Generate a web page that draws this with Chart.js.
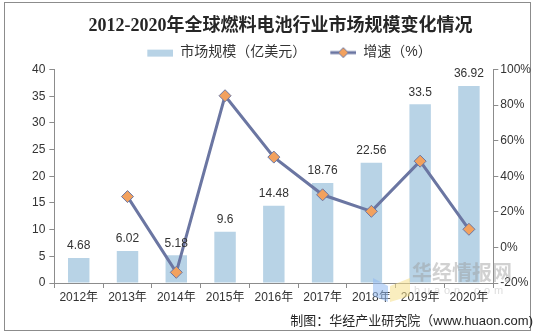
<!DOCTYPE html>
<html>
<head>
<meta charset="utf-8">
<script src="https://cdn.jsdelivr.net/npm/chart.js@4.4.1/dist/chart.umd.min.js"></script>
<style>
  html, body { margin: 0; padding: 0; background: #fff; }
  #wrap { position: relative; width: 535px; height: 335px; }
</style>
</head>
<body>
<div id="wrap"><canvas id="c" width="535" height="335"></canvas></div>
<script>
const categories = ['2012年','2013年','2014年','2015年','2016年','2017年','2018年','2019年','2020年'];
const marketSize = [4.68, 6.02, 5.18, 9.6, 14.48, 18.76, 22.56, 33.5, 36.92];
const growthRate = [null, 28.6, -14.0, 85.3, 50.8, 29.6, 20.3, 48.5, 10.2];
const leftTicks = [0, 5, 10, 15, 20, 25, 30, 35, 40];
const rightTicks = [-20, 0, 20, 40, 60, 80, 100];
const titleText = '2012-2020年全球燃料电池行业市场规模变化情况';
const barLabel = '市场规模（亿美元）';
const lineLabel = '增速（%）';
const sourceText = '制图：华经产业研究院（www.huaon.com)';

const BAR_COLOR = '#B8D3E6';
const LINE_COLOR = '#6B76A2';
const MARKER_COLOR = '#F2A15E';
const AXIS_COLOR = '#8C8C8C';
const TEXT_COLOR = '#333333';
const NUM_FONT = '"Liberation Sans", Arial, "Noto Sans CJK SC", sans-serif';
const CJK_FONT = '"Liberation Sans", "Noto Sans CJK SC", sans-serif';
const ICON_W = 44;

function makeBarIcon() {
  const c = document.createElement('canvas');
  c.width = ICON_W; c.height = 12;
  const x = c.getContext('2d');
  x.fillStyle = BAR_COLOR;
  x.fillRect(ICON_W - 26, 3, 26, 7);
  return c;
}
function makeLineIcon() {
  const c = document.createElement('canvas');
  c.width = ICON_W; c.height = 12;
  const x = c.getContext('2d');
  const s = ICON_W - 26;
  x.strokeStyle = LINE_COLOR; x.lineWidth = 3;
  x.beginPath(); x.moveTo(s, 6); x.lineTo(ICON_W, 6); x.stroke();
  x.fillStyle = MARKER_COLOR; x.strokeStyle = LINE_COLOR; x.lineWidth = 1;
  const cx = s + 13;
  x.beginPath(); x.moveTo(cx, 1); x.lineTo(cx + 5, 6); x.lineTo(cx, 11); x.lineTo(cx - 5, 6); x.closePath();
  x.fill(); x.stroke();
  return c;
}
const barIcon = makeBarIcon();
const lineIcon = makeLineIcon();

const decorPlugin = {
  id: 'decor',
  beforeDraw(chart) {
    const ctx = chart.ctx;
    ctx.save();
    ctx.fillStyle = '#fff';
    ctx.fillRect(0, 0, chart.width, chart.height);
    ctx.strokeStyle = AXIS_COLOR;
    ctx.lineWidth = 1;
    ctx.strokeRect(4.5, 2.5, 526, 328);
    ctx.restore();
  },
  afterDatasetsDraw(chart) {
    const ctx = chart.ctx;
    const meta = chart.getDatasetMeta(1);
    ctx.save();
    ctx.font = '12px ' + NUM_FONT;
    ctx.fillStyle = TEXT_COLOR;
    ctx.textAlign = 'center';
    ctx.textBaseline = 'bottom';
    meta.data.forEach((bar, i) => {
      ctx.fillText(String(marketSize[i]), bar.x, bar.y - 6);
    });
    ctx.restore();
  },
  afterDraw(chart) {
    const ctx = chart.ctx;
    ctx.save();
    ctx.globalAlpha = 0.55;
    ctx.fillStyle = '#8FB8F0';
    ctx.beginPath(); ctx.moveTo(373, 278); ctx.lineTo(388, 286); ctx.lineTo(388, 302); ctx.lineTo(373, 296); ctx.closePath(); ctx.fill();
    ctx.fillStyle = '#F5E08A';
    ctx.beginPath(); ctx.moveTo(390, 286); ctx.lineTo(410, 278); ctx.lineTo(410, 296); ctx.lineTo(390, 302); ctx.closePath(); ctx.fill();
    ctx.globalAlpha = 0.45;
    ctx.fillStyle = '#9A9A9A';
    ctx.font = 'bold 20px "Noto Sans CJK SC", sans-serif';
    ctx.textAlign = 'left';
    ctx.textBaseline = 'middle';
    ctx.fillText('华经情报网', 412, 272);
    ctx.globalAlpha = 0.35;
    ctx.font = '11px ' + NUM_FONT;
    const s = 'huaon.com';
    let x = 414;
    for (const ch of s) { ctx.fillText(ch, x, 291); x += 10; }
    ctx.restore();
  }
};

new Chart(document.getElementById('c'), {
  data: {
    labels: categories,
    datasets: [
      {
        type: 'line',
        label: lineLabel,
        data: growthRate,
        yAxisID: 'y1',
        borderColor: LINE_COLOR,
        borderWidth: 3,
        backgroundColor: MARKER_COLOR,
        pointStyle: 'rectRot',
        pointRadius: 6,
        pointBackgroundColor: MARKER_COLOR,
        pointBorderColor: LINE_COLOR,
        pointBorderWidth: 1,
        spanGaps: false,
        order: 0
      },
      {
        type: 'bar',
        label: barLabel,
        data: marketSize,
        yAxisID: 'y',
        backgroundColor: BAR_COLOR,
        barPercentage: 0.44,
        categoryPercentage: 1,
        order: 1
      }
    ]
  },
  options: {
    responsive: false,
    animation: false,
    devicePixelRatio: 1,
    layout: { padding: { left: 28, right: 2, top: 4, bottom: 6 } },
    plugins: {
      tooltip: { enabled: false },
      title: {
        display: true,
        text: titleText,
        color: '#262626',
        font: { family: '"Liberation Serif", "Noto Sans CJK SC", serif', size: 18, weight: 'bold' },
        padding: { top: 12, bottom: 2 }
      },
      legend: {
        display: true,
        labels: {
          color: TEXT_COLOR,
          font: { family: CJK_FONT, size: 14 },
          usePointStyle: true,
          pointStyleWidth: ICON_W,
          boxHeight: 12,
          padding: 6,
          generateLabels(chart) {
            return [
              { text: barLabel, pointStyle: barIcon, datasetIndex: 1, fontColor: TEXT_COLOR, lineWidth: 0, strokeStyle: 'transparent', fillStyle: BAR_COLOR },
              { text: lineLabel, pointStyle: lineIcon, datasetIndex: 0, fontColor: TEXT_COLOR, lineWidth: 0, strokeStyle: 'transparent', fillStyle: MARKER_COLOR }
            ];
          }
        }
      },
      subtitle: {
        display: true,
        position: 'bottom',
        align: 'end',
        text: sourceText,
        color: '#262626',
        font: { family: CJK_FONT, size: 13 },
        padding: { top: 7, bottom: 0 }
      }
    },
    scales: {
      x: {
        grid: { display: true, drawOnChartArea: false, drawTicks: true, tickLength: 5, color: AXIS_COLOR, offset: true },
        border: { display: true, color: AXIS_COLOR },
        ticks: { color: TEXT_COLOR, font: { family: CJK_FONT, size: 12 }, maxRotation: 0, autoSkip: false, padding: 2 }
      },
      y: {
        position: 'left',
        min: 0, max: 40,
        afterBuildTicks(axis) { axis.ticks = leftTicks.map(v => ({ value: v })); },
        grid: { display: true, drawOnChartArea: false, drawTicks: true, tickLength: 5, color: AXIS_COLOR },
        border: { display: true, color: AXIS_COLOR },
        ticks: { color: TEXT_COLOR, font: { family: NUM_FONT, size: 12 }, padding: 4 }
      },
      y1: {
        position: 'right',
        min: -20, max: 100,
        afterBuildTicks(axis) { axis.ticks = rightTicks.map(v => ({ value: v })); },
        grid: { display: true, drawOnChartArea: false, drawTicks: true, tickLength: 5, color: AXIS_COLOR },
        border: { display: true, color: AXIS_COLOR },
        ticks: { color: TEXT_COLOR, font: { family: NUM_FONT, size: 12 }, padding: 2, callback: v => v + '%' }
      }
    }
  },
  plugins: [decorPlugin]
});
</script>
</body>
</html>
